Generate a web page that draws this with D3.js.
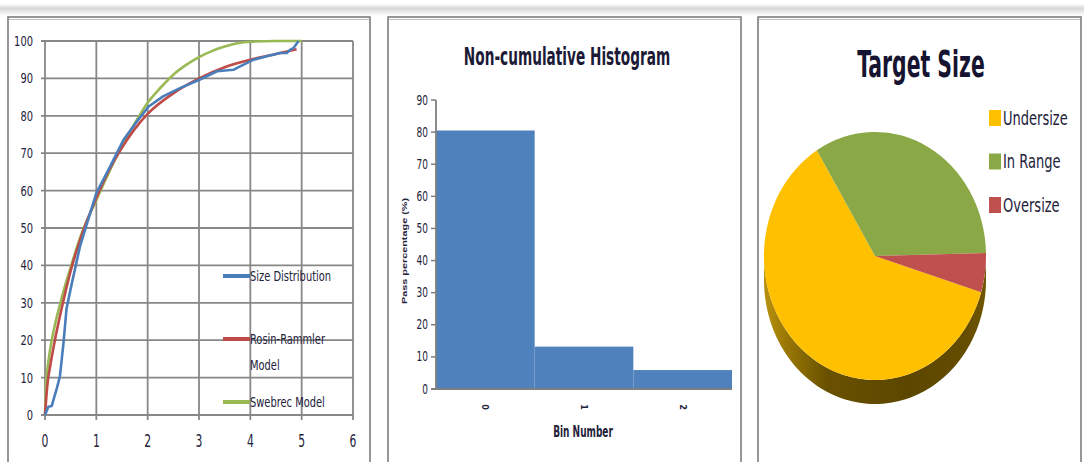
<!DOCTYPE html>
<html>
<head>
<meta charset="utf-8">
<script src="https://cdn.jsdelivr.net/npm/d3@7"></script>
<style>
  html, body { margin: 0; padding: 0; background: #ffffff; }
  svg { display: block; }
</style>
</head>
<body>
<svg id="chart" width="1084" height="462"></svg>
<script>
// ---- Cumulative size distribution (% passing vs size) ----
const sizeX = [0, 0.065, 0.13, 0.23, 0.29, 0.36, 0.42, 0.52, 0.68, 0.88, 1.0, 1.27, 1.53, 1.79, 2.02, 2.3, 2.63, 3.02, 3.35, 3.67, 3.8, 3.93, 4.06, 4.32, 4.58, 4.71, 4.78, 4.84, 4.94];
const sizeY = [0, 2.2, 2.4, 7.1, 10.3, 19.2, 28.5, 35, 45, 54, 59.3, 66.5, 73.6, 78.5, 82.5, 85.2, 87.4, 89.7, 91.9, 92.3, 93.2, 94.1, 95, 95.9, 96.8, 96.8, 97.7, 98.1, 100];
const rosinX = [0, 0.05, 0.1, 0.2, 0.3, 0.4, 0.5, 0.7, 1.0, 1.25, 1.5, 1.75, 2.0, 2.5, 3.0, 3.5, 4.0, 4.5, 4.9];
const rosinY = [0, 8.5, 13, 20.5, 27, 33, 38.5, 47.5, 58, 65.5, 71.5, 76.5, 80.5, 86, 90, 93, 95, 96.5, 97.8];
const swebrecX = [0, 0.02, 0.05, 0.1, 0.2, 0.3, 0.4, 0.5, 0.7, 1.0, 1.25, 1.5, 1.75, 2.0, 2.25, 2.5, 2.75, 3.0, 3.25, 3.5, 3.75, 4.0, 4.5, 5.0];
const swebrecY = [0, 8, 12.5, 17.5, 24.5, 30, 35, 39.5, 48, 57.5, 65, 72, 78, 83.5, 87.5, 91, 93.6, 95.7, 97.3, 98.5, 99.4, 99.8, 100, 100];
const curveNames = ["Size Distribution", "Rosin-Rammler Model", "Swebrec Model"];
const curveTicksX = [0, 1, 2, 3, 4, 5, 6];
const curveTicksY = [0, 10, 20, 30, 40, 50, 60, 70, 80, 90, 100];

// ---- Non-cumulative histogram ----
const bins = ["0", "1", "2"];
const binPercent = [80.5, 13.2, 5.9];
const histTicksY = [0, 10, 20, 30, 40, 50, 60, 70, 80, 90];

// ---- Target size pie ----
const targetClasses = ["Undersize", "In Range", "Oversize"];
const targetShares = [61.5, 33.4, 5.1];

const NARROW = "'Liberation Sans Narrow', 'DejaVu Sans Condensed', 'Arial Narrow', sans-serif";
const TEXT = "#23223a";
const svg = d3.select("#chart");
const defs = svg.append("defs");

// Text drawn with a slight vertical stretch (tall, condensed lettering)
function label(parent, x, y, str, o = {}) {
  let tf = `translate(${x},${y}) scale(${o.sx || 1},${o.sy || 1.3})`;
  if (o.rotate) tf += ` rotate(${o.rotate})`;
  return parent.append("g").attr("transform", tf)
    .append("text")
    .attr("font-family", o.family || NARROW)
    .attr("font-size", o.size || 11)
    .attr("font-weight", o.weight || "normal")
    .attr("text-anchor", o.anchor || "middle")
    .attr("dominant-baseline", o.baseline || "central")
    .attr("fill", o.fill || TEXT)
    .text(str);
}

// ---- page background: soft shadow band and panel frames ----
const band = defs.append("linearGradient").attr("id", "band").attr("x1", 0).attr("x2", 0).attr("y1", 0).attr("y2", 1);
band.append("stop").attr("offset", 0).attr("stop-color", "#ffffff");
band.append("stop").attr("offset", 0.35).attr("stop-color", "#d6d6d6");
band.append("stop").attr("offset", 1).attr("stop-color", "#ffffff");
svg.append("rect").attr("x", 0).attr("y", 4).attr("width", 1084).attr("height", 12).attr("fill", "url(#band)");

const panels = [[8, 370], [388, 741], [758, 1081]];
panels.forEach(([x0, x1]) => {
  svg.append("rect").attr("x", x0).attr("y", 17).attr("width", x1 - x0).attr("height", 460)
    .attr("fill", "#ffffff").attr("stroke", "#7d7d7d").attr("stroke-width", 1.6);
  svg.append("line").attr("x1", x0 + 1).attr("x2", x1 - 1).attr("y1", 19.5).attr("y2", 19.5)
    .attr("stroke", "#bdbdbd").attr("stroke-width", 1.2);
});

// ================= Panel 1: cumulative curves =================
const p1 = svg.append("g");
const x1s = d3.scaleLinear().domain([0, 6]).range([45, 353]);
const y1s = d3.scaleLinear().domain([0, 100]).range([415, 41]);
const gridColor = "#878787";

p1.append("g").selectAll("line").data(curveTicksY).join("line")
  .attr("x1", x1s(0) - 4).attr("x2", x1s(6))
  .attr("y1", d => y1s(d)).attr("y2", d => y1s(d))
  .attr("stroke", gridColor).attr("stroke-width", 1.8);
p1.append("g").selectAll("line").data(curveTicksX).join("line")
  .attr("x1", d => x1s(d)).attr("x2", d => x1s(d))
  .attr("y1", y1s(100)).attr("y2", y1s(0) + 5)
  .attr("stroke", gridColor).attr("stroke-width", 1.8);

curveTicksY.forEach(v => label(p1, 33, y1s(v), String(v), { anchor: "end", size: 11, sy: 1.3 }));
curveTicksX.forEach(v => label(p1, x1s(v), 441, String(v), { size: 12, sy: 1.45 }));

const series = [
  { xs: sizeX, ys: sizeY, color: "#4a7ebb" },
  { xs: rosinX, ys: rosinY, color: "#be4b48" },
  { xs: swebrecX, ys: swebrecY, color: "#98b954" }
];
const line1 = d3.line().x(d => x1s(d[0])).y(d => y1s(d[1]));
// model curves are smooth; the measured distribution is drawn point to point
[series[2], series[1], series[0]].forEach(s => {
  const pts = s.xs.map((x, j) => [x, s.ys[j]]);
  const gen = s === series[0] ? line1 : d3.line().x(d => x1s(d[0])).y(d => y1s(d[1])).curve(d3.curveMonotoneX);
  p1.append("path").attr("d", gen(pts)).attr("fill", "none")
    .attr("stroke", s.color).attr("stroke-width", 2.6).attr("stroke-linejoin", "round");
});

// legend
const legendRows = [
  { lines: ["Size Distribution"], y: 276, color: series[0].color },
  { lines: ["Rosin-Rammler", "Model"], y: 339, color: series[1].color },
  { lines: ["Swebrec Model"], y: 402, color: series[2].color }
];
legendRows.forEach(r => {
  p1.append("line").attr("x1", 223).attr("x2", 250).attr("y1", r.y).attr("y2", r.y)
    .attr("stroke", r.color).attr("stroke-width", 4);
  r.lines.forEach((t, k) => label(p1, 250, r.y + k * 26, t, { anchor: "start", size: 11, sy: 1.35 }));
});

// ================= Panel 2: histogram =================
const p2 = svg.append("g");
const xb = d3.scaleBand().domain(bins).range([436, 732]).padding(0);
const yb = d3.scaleLinear().domain([0, 90]).range([389, 100]);

p2.append("g").selectAll("rect").data(bins).join("rect")
  .attr("x", d => xb(d)).attr("width", xb.bandwidth())
  .attr("y", (d, i) => yb(binPercent[i]))
  .attr("height", (d, i) => yb(0) - yb(binPercent[i]))
  .attr("fill", "#4f81bd");

p2.append("line").attr("x1", 436).attr("x2", 436).attr("y1", yb(90)).attr("y2", yb(0))
  .attr("stroke", "#7f7f7f").attr("stroke-width", 1.8);
p2.append("line").attr("x1", 431).attr("x2", 732).attr("y1", yb(0)).attr("y2", yb(0))
  .attr("stroke", "#7f7f7f").attr("stroke-width", 1.8);
p2.append("g").selectAll("line").data(histTicksY).join("line")
  .attr("x1", 431).attr("x2", 436).attr("y1", d => yb(d)).attr("y2", d => yb(d))
  .attr("stroke", "#7f7f7f").attr("stroke-width", 1.5);
histTicksY.forEach(v => label(p2, 428, yb(v), String(v), { anchor: "end", size: 10, sy: 1.35 }));
bins.forEach(b => label(p2, xb(b) + xb.bandwidth() / 2, 407, b, { size: 9, sy: 1.0, rotate: 90, weight: "bold" }));

label(p2, 567, 56, "Non-cumulative Histogram", { size: 19, weight: "bold", sx: 0.8, sy: 1.35, fill: "#1c1a36" });
label(p2, 583, 432, "Bin Number", { size: 10, weight: "bold", sy: 1.5 });
label(p2, 405, 251, "Pass percentage (%)", { size: 7, weight: "bold", sy: 1.55, rotate: -90,
  family: "'Liberation Sans', Arial, sans-serif" });

// ================= Panel 3: 3-D pie =================
const p3 = svg.append("g");
const cx = 875, cy = 256, rx = 111, ry = 124, depth = 24;
const pieColors = ["#ffc000", "#8aa946", "#c0504d"];
const startDeg = 107;

const wallGrad = defs.append("linearGradient").attr("id", "wall")
  .attr("gradientUnits", "userSpaceOnUse").attr("x1", cx - rx).attr("x2", cx + rx).attr("y1", 0).attr("y2", 0);
[[0, "#b89210"], [0.1, "#9a7805"], [0.28, "#6a5100"], [0.65, "#5c4700"], [0.9, "#644c00"], [1, "#705600"]]
  .forEach(([o, c]) => wallGrad.append("stop").attr("offset", o).attr("stop-color", c));

// side wall: lower half of the rim, extruded downwards
const rim = d3.range(90, 270.01, 2).map(t => {
  const r = t * Math.PI / 180;
  return [cx + rx * Math.sin(r), cy - ry * Math.cos(r)];
});
const wallPts = rim.concat(rim.slice().reverse().map(([x, y]) => [x, y + depth]));
p3.append("path").attr("d", "M" + wallPts.map(p => p.join(",")).join("L") + "Z").attr("fill", "url(#wall)");

const pie = d3.pie().sort(null).startAngle(startDeg * Math.PI / 180).endAngle((startDeg + 360) * Math.PI / 180);
const arc = d3.arc().innerRadius(0).outerRadius(1);
p3.append("g").attr("transform", `translate(${cx},${cy}) scale(${rx},${ry})`)
  .selectAll("path").data(pie(targetShares)).join("path")
  .attr("d", arc).attr("fill", (d, i) => pieColors[i]);

label(p3, 921, 64, "Target Size", { size: 27, weight: "bold", sx: 0.84, sy: 1.4, fill: "#161430" });

targetClasses.forEach((c, i) => {
  const yy = 118 + i * 43.5;
  p3.append("rect").attr("x", 989).attr("y", yy - 8).attr("width", 12).attr("height", 16).attr("fill", pieColors[i]);
  label(p3, 1003, yy, c, { anchor: "start", size: 14.5, sy: 1.4 });
});
</script>
</body>
</html>
